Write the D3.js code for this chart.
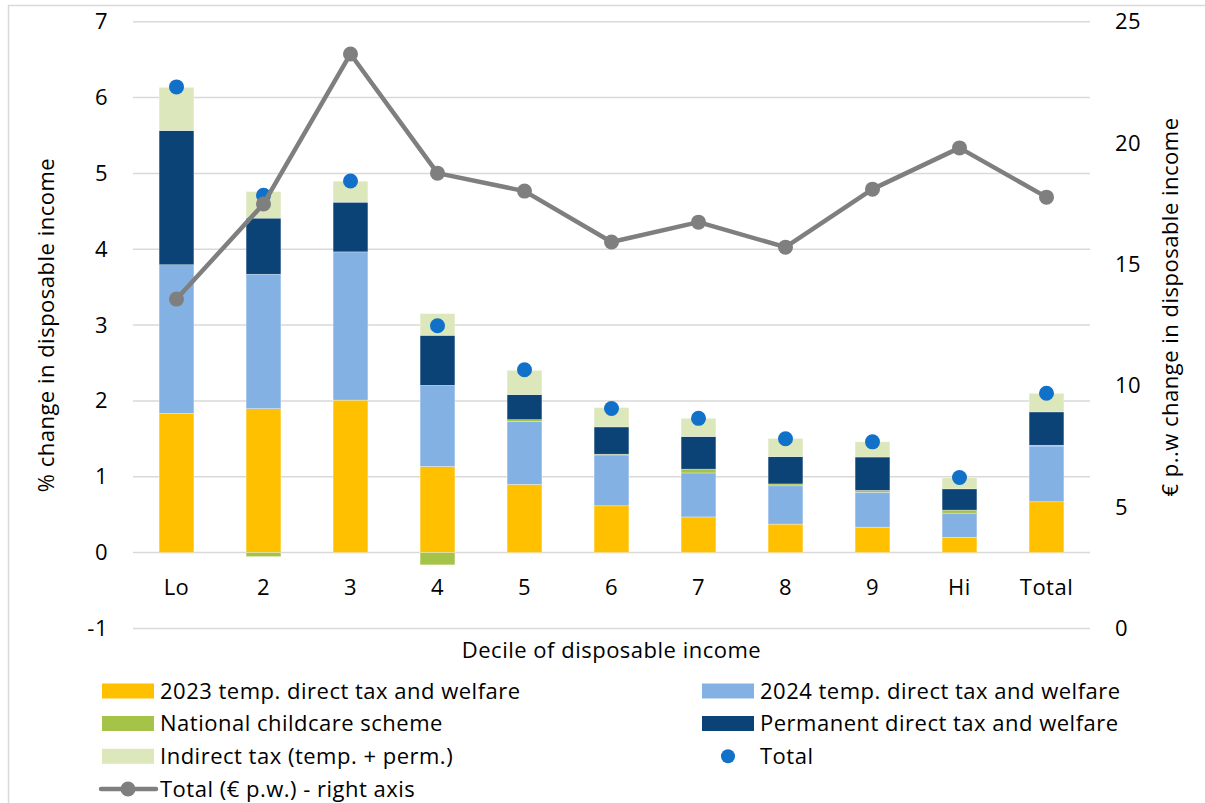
<!DOCTYPE html>
<html>
<head>
<meta charset="utf-8">
<script src="https://cdn.jsdelivr.net/npm/d3@7"></script>
<style>
  html, body { margin: 0; padding: 0; background: #fff; }
  svg { display: block; font-family: "Open Sans", Lato, sans-serif; }
  svg text { letter-spacing: 0.5px; }
</style>
</head>
<body>
<svg id="chart" width="1205" height="803"></svg>
<script>
const categories = ["Lo", "2", "3", "4", "5", "6", "7", "8", "9", "Hi", "Total"];
const temp2023   = [1.835, 1.897, 2.01, 1.135, 0.898, 0.617, 0.47, 0.375, 0.335, 0.20, 0.67];
const temp2024   = [1.96, 1.773, 1.955, 1.07, 0.83, 0.67, 0.58, 0.505, 0.46, 0.32, 0.735];
const childcare  = [0.0, -0.053, 0.0, -0.162, 0.025, 0.01, 0.05, 0.025, 0.025, 0.04, 0.01];
const permanent  = [1.77, 0.74, 0.655, 0.66, 0.33, 0.36, 0.43, 0.36, 0.44, 0.28, 0.44];
const indirect   = [0.57, 0.35, 0.277, 0.286, 0.32, 0.255, 0.24, 0.24, 0.20, 0.145, 0.245];
const totalPct   = [6.14, 4.71, 4.90, 2.99, 2.41, 1.90, 1.77, 1.50, 1.46, 0.99, 2.10];
const totalEuro  = [13.57, 17.49, 23.67, 18.76, 18.02, 15.92, 16.74, 15.71, 18.1, 19.8, 17.77];
const leftTicks  = [-1, 0, 1, 2, 3, 4, 5, 6, 7];
const rightTicks = [0, 5, 10, 15, 20, 25];

const seriesNames = [
  "2023 temp. direct tax and welfare",
  "2024 temp. direct tax and welfare",
  "National childcare scheme",
  "Permanent direct tax and welfare",
  "Indirect tax (temp. + perm.)"
];
const seriesColors = ["#FFC000", "#83B1E3", "#A5C249", "#0C4377", "#DCE7BB"];
const seriesArrays = [temp2023, temp2024, childcare, permanent, indirect];
const dotColor = "#1170C8";
const lineColor = "#7F7F7F";
const FS = 22;

const svg = d3.select("#chart");
const margin = { left: 133, right: 1090, top: 21.7, bottom: 628.4 };

const x = d3.scaleBand().domain(categories).range([margin.left, margin.right]).paddingInner(0.6).paddingOuter(0.3);
const yL = d3.scaleLinear().domain([-1, 7]).range([margin.bottom, margin.top]);
const yR = d3.scaleLinear().domain([0, 25]).range([margin.bottom, margin.top]);

// outer chart border
svg.append("rect").attr("x", 8.5).attr("y", 5.5).attr("width", 1400).attr("height", 1000)
  .attr("fill", "none").attr("stroke", "#D9D9D9").attr("stroke-width", 1.5);

// gridlines
svg.append("g").selectAll("line").data(leftTicks).join("line")
  .attr("x1", margin.left).attr("x2", margin.right)
  .attr("y1", d => yL(d)).attr("y2", d => yL(d))
  .attr("stroke", "#D9D9D9").attr("stroke-width", 1.5);

// left axis
const axL = svg.append("g").attr("transform", `translate(${margin.left - 25},0)`)
  .call(d3.axisLeft(yL).tickValues(leftTicks).tickSize(0).tickPadding(0).tickFormat(d => String(d)));
axL.select(".domain").remove();
axL.selectAll("text").attr("font-size", FS).attr("fill", "#000").attr("font-family", "'Open Sans', sans-serif");

// right axis
const axR = svg.append("g").attr("transform", `translate(${margin.right + 25},0)`)
  .call(d3.axisRight(yR).tickValues(rightTicks).tickSize(0).tickPadding(0).tickFormat(d => String(d)));
axR.select(".domain").remove();
axR.selectAll("text").attr("font-size", FS).attr("fill", "#000").attr("font-family", "'Open Sans', sans-serif");

// stacked bars
const table = categories.map((c, i) => {
  const o = { cat: c };
  seriesNames.forEach((s, j) => o[s] = seriesArrays[j][i]);
  return o;
});
const stack = d3.stack().keys(seriesNames).offset(d3.stackOffsetDiverging);
const stacked = stack(table);

svg.append("g").selectAll("g").data(stacked).join("g")
  .attr("fill", (d, i) => seriesColors[i])
  .selectAll("rect").data(d => d).join("rect")
  .attr("x", d => x(d.data.cat))
  .attr("width", x.bandwidth())
  .attr("y", d => yL(Math.max(d[0], d[1])))
  .attr("height", d => Math.abs(yL(d[0]) - yL(d[1])))
  .attr("stroke", "#ffffff").attr("stroke-opacity", 0.5).attr("stroke-width", 0.6);

// x axis labels
const axX = svg.append("g").attr("transform", `translate(0,${yL(0) + 42})`)
  .call(d3.axisBottom(x).tickSize(0).tickPadding(0));
axX.select(".domain").remove();
axX.selectAll("text").attr("font-size", FS).attr("fill", "#000").attr("font-family", "'Open Sans', sans-serif").attr("dy", "0");

// total dots
const cx = c => x(c) + x.bandwidth() / 2;
svg.append("g").selectAll("circle").data(categories).join("circle")
  .attr("cx", d => cx(d)).attr("cy", (d, i) => yL(totalPct[i])).attr("r", 7.5)
  .attr("fill", dotColor);

// line on right axis
svg.append("path")
  .datum(categories.map((c, i) => [cx(c), yR(totalEuro[i])]))
  .attr("d", d3.line())
  .attr("fill", "none").attr("stroke", lineColor).attr("stroke-width", 4.5).attr("stroke-linejoin", "round");
svg.append("g").selectAll("circle").data(categories).join("circle")
  .attr("cx", d => cx(d)).attr("cy", (d, i) => yR(totalEuro[i])).attr("r", 7.5)
  .attr("fill", lineColor);

// axis titles
svg.append("text").attr("transform", `translate(54,${(margin.top + margin.bottom) / 2}) rotate(-90)`)
  .attr("text-anchor", "middle").attr("font-size", FS).text("% change in disposable income");
svg.append("text").attr("transform", `translate(1178,${(margin.top + margin.bottom) / 2 - 18}) rotate(-90)`)
  .attr("text-anchor", "middle").attr("font-size", FS).text("€ p..w change in disposable income");
svg.append("text").attr("x", (margin.left + margin.right) / 2).attr("y", 658)
  .attr("text-anchor", "middle").attr("font-size", FS).text("Decile of disposable income");

// legend
const legendItems = [
  { name: seriesNames[0], type: "rect", color: seriesColors[0], col: 0, row: 0 },
  { name: seriesNames[1], type: "rect", color: seriesColors[1], col: 1, row: 0 },
  { name: seriesNames[2], type: "rect", color: seriesColors[2], col: 0, row: 1 },
  { name: seriesNames[3], type: "rect", color: seriesColors[3], col: 1, row: 1 },
  { name: seriesNames[4], type: "rect", color: seriesColors[4], col: 0, row: 2 },
  { name: "Total", type: "dot", color: dotColor, col: 1, row: 2 },
  { name: "Total (€ p.w.) - right axis", type: "line", color: lineColor, col: 0, row: 3 }
];
const colX = [102, 702];
const rowY = [691, 723.5, 756.3, 789];
const lg = svg.append("g").selectAll("g").data(legendItems).join("g")
  .attr("transform", d => `translate(${colX[d.col]},${rowY[d.row]})`);
lg.filter(d => d.type === "rect").append("rect")
  .attr("x", 0).attr("y", -7.5).attr("width", 52).attr("height", 15).attr("fill", d => d.color);
lg.filter(d => d.type === "dot").append("circle")
  .attr("cx", 26).attr("cy", 0).attr("r", 7).attr("fill", d => d.color);
lg.filter(d => d.type === "line").append("line")
  .attr("x1", -1).attr("x2", 54).attr("y1", 0).attr("y2", 0)
  .attr("stroke", d => d.color).attr("stroke-width", 4.5).attr("stroke-linecap", "round");
lg.filter(d => d.type === "line").append("circle")
  .attr("cx", 26).attr("cy", 0).attr("r", 7.5).attr("fill", d => d.color);
lg.append("text").attr("x", 58).attr("y", 0).attr("dy", "0.35em")
  .attr("font-size", FS).text(d => d.name);
</script>
</body>
</html>
